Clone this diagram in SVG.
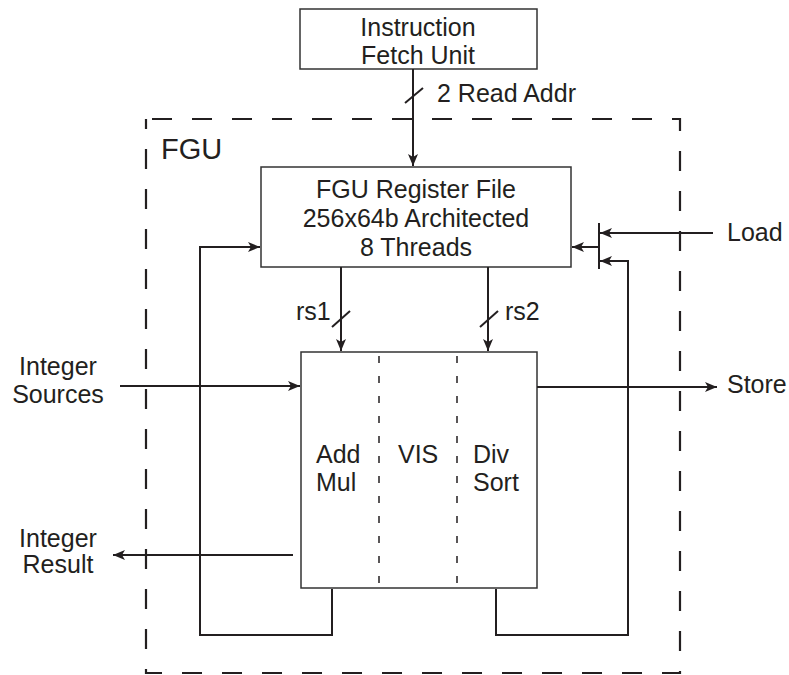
<svg xmlns="http://www.w3.org/2000/svg" width="789" height="675" viewBox="0 0 789 675">
<style>
  .t { font-family: "Liberation Sans", Arial, sans-serif; font-size: 25px; fill: #231f20; }
  .c { text-anchor: middle; }
  .box { fill: #fff; stroke: #333; stroke-width: 1.5; }
  .ln { fill: none; stroke: #231f20; stroke-width: 2; }
  .div { fill: none; stroke: #231f20; stroke-width: 1.5; stroke-dasharray: 7 13; }
</style>
<defs>
  <marker id="ah" viewBox="0 0 12 10" refX="12" refY="5" markerWidth="12" markerHeight="10" markerUnits="userSpaceOnUse" orient="auto">
    <path d="M0,0 L12,5 L0,10 L3,5 z" fill="#231f20"/>
  </marker>
</defs>
<rect width="789" height="675" fill="#fff"/>
<g id="fgu-boundary">
  <rect x="146" y="119" width="534" height="554" fill="none" stroke="#231f20" stroke-width="2.2" stroke-dasharray="20 20" stroke-dashoffset="-6"/>
  <text class="t" x="161" y="159" style="font-size:29px">FGU</text>
</g>
<g id="ifu">
  <rect class="box" x="300" y="9" width="237" height="60"/>
  <text class="t c" x="418" y="36">Instruction</text>
  <text class="t c" x="418" y="64">Fetch Unit</text>
</g>
<g id="regfile">
  <rect class="box" x="261" y="167" width="310" height="100"/>
  <text class="t c" x="416" y="198">FGU Register File</text>
  <text class="t c" x="416" y="227">256x64b Architected</text>
  <text class="t c" x="416" y="256">8 Threads</text>
</g>
<g id="unit">
  <rect class="box" x="301" y="352" width="236" height="236"/>
  <line class="div" x1="379" y1="356" x2="379" y2="588"/>
  <line class="div" x1="457" y1="356" x2="457" y2="588"/>
  <text class="t" x="316" y="463">Add</text>
  <text class="t" x="316" y="491">Mul</text>
  <text class="t" x="398" y="463">VIS</text>
  <text class="t" x="473" y="463">Div</text>
  <text class="t" x="473" y="491">Sort</text>
</g>
<g id="labels">
  <text class="t" x="437" y="102">2 Read Addr</text>
  <text class="t" x="296" y="320">rs1</text>
  <text class="t" x="505" y="320">rs2</text>
  <text class="t" x="727" y="241">Load</text>
  <text class="t" x="727" y="393">Store</text>
  <text class="t c" x="58" y="375">Integer</text>
  <text class="t c" x="58" y="403">Sources</text>
  <text class="t c" x="58" y="547">Integer</text>
  <text class="t c" x="58" y="573">Result</text>
</g>
<g id="connectors">
  <line class="ln" x1="413" y1="69" x2="413" y2="166" marker-end="url(#ah)"/>
  <line class="ln" x1="405" y1="103" x2="423" y2="88"/>
  <line class="ln" x1="341" y1="267" x2="341" y2="351" marker-end="url(#ah)"/>
  <line class="ln" x1="332" y1="327" x2="350" y2="311"/>
  <line class="ln" x1="488" y1="267" x2="488" y2="351" marker-end="url(#ah)"/>
  <line class="ln" x1="480" y1="327" x2="498" y2="311"/>
  <line class="ln" x1="120" y1="386" x2="300" y2="386" marker-end="url(#ah)"/>
  <line class="ln" x1="293" y1="555" x2="113" y2="555" marker-end="url(#ah)"/>
  <line class="ln" x1="537" y1="387" x2="717" y2="387" marker-end="url(#ah)"/>
  <polyline class="ln" points="332,589 332,635 200,635 200,247 260,247" marker-end="url(#ah)"/>
  <polyline class="ln" points="496,589 496,635 628,635 628,261 600,261" marker-end="url(#ah)"/>
  <line class="ln" x1="713" y1="233" x2="600" y2="233" marker-end="url(#ah)"/>
  <line class="ln" x1="599" y1="223" x2="599" y2="269"/>
  <line class="ln" x1="599" y1="247" x2="572" y2="247" marker-end="url(#ah)"/>
</g>
</svg>
